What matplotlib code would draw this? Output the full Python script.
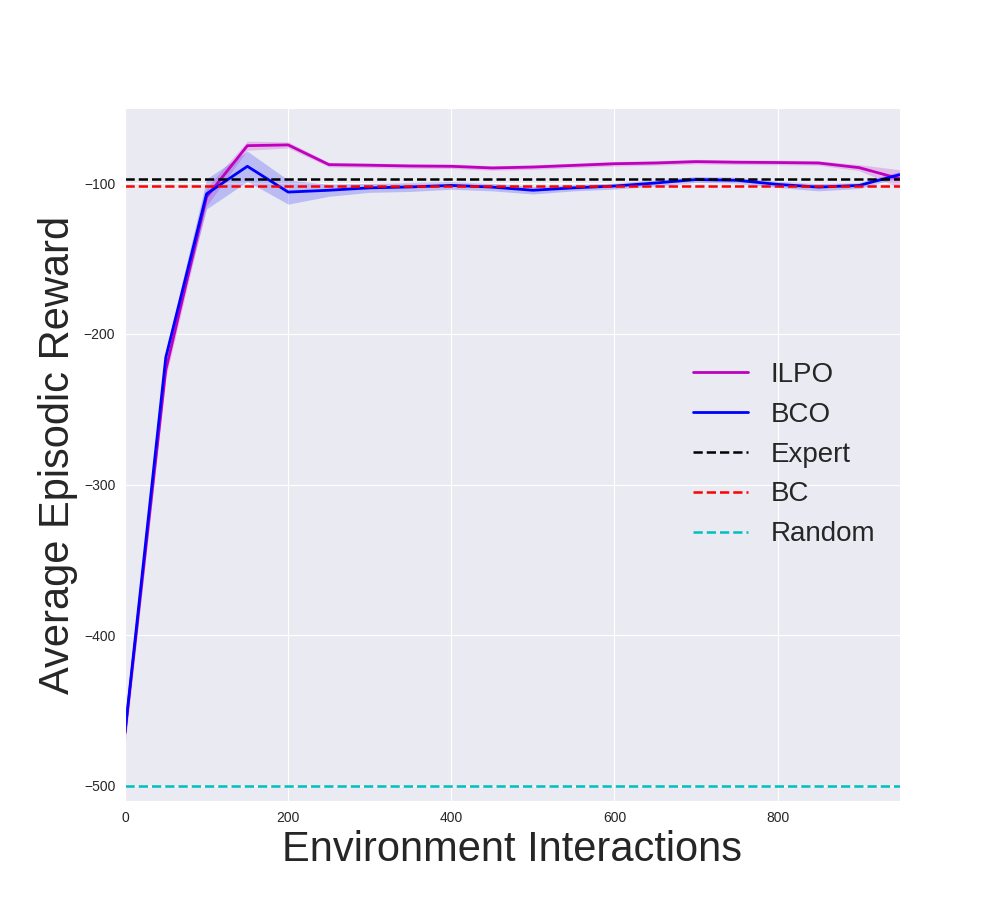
import numpy as np
import matplotlib
matplotlib.use("Agg")
import matplotlib.pyplot as plt
import seaborn as sns

# interactions (every 50 steps)
steps = list(range(0, 1000, 50))

ilpo_mean = [-465, -224, -109, -75, -74.5, -87.6, -88, -88.5, -88.7, -89.8,
             -89.2, -88.1, -87, -86.5, -85.6, -86, -86.2, -86.5, -89.6, -97]
ilpo_std = [8, 5, 6, 3, 2, 1.5, 1.5, 1.5, 1.5, 1.5,
            1.5, 1.5, 1.5, 1.5, 1.5, 1.5, 1.5, 1.5, 2, 6]

bco_mean = [-464.5, -215.5, -107, -88.7, -105.8, -104.6, -103, -102.4, -101.4, -102.5,
            -104.6, -103, -101.8, -99.8, -97.5, -98, -100.7, -102.5, -101.4, -94.2]
bco_std = [3, 4, 10, 10, 8, 4, 3, 3, 2.5, 2.5,
           2.5, 2, 2, 2, 2, 2, 2, 2.5, 2, 2]

expert_score = -97.3
bc_score = -101.8
random_score = -500

sns.set_style("darkgrid")
plt.rcParams['font.family'] = ['Liberation Sans', 'DejaVu Sans']

fig, ax = plt.subplots(figsize=(10, 9), dpi=100)

x = np.array(steps)
im, isd = np.array(ilpo_mean), np.array(ilpo_std)
bm, bsd = np.array(bco_mean), np.array(bco_std)

ax.fill_between(x, im - isd, im + isd, color="m", alpha=0.2, linewidth=0)
ax.plot(x, im, color="m", lw=2, label="ILPO")
ax.fill_between(x, bm - bsd, bm + bsd, color="b", alpha=0.2, linewidth=0)
ax.plot(x, bm, color="b", lw=2, label="BCO")

ax.axhline(expert_score, color="k", ls="--", lw=1.8, label="Expert")
ax.axhline(bc_score, color="r", ls="--", lw=1.8, label="BC")
ax.axhline(random_score, color="c", ls="--", lw=1.8, label="Random")

ax.set_xlim(0, 950)
ax.set_ylim(-510, -50)
ax.set_xticks([0, 200, 400, 600, 800])
ax.set_yticks([-500, -400, -300, -200, -100])
ax.tick_params(labelsize=10)

ax.set_xlabel("Environment Interactions", fontsize=30)
ax.set_ylabel("Average Episodic Reward", fontsize=30)
ax.legend(loc="center right", fontsize=20, frameon=False)

plt.savefig("out.png")
